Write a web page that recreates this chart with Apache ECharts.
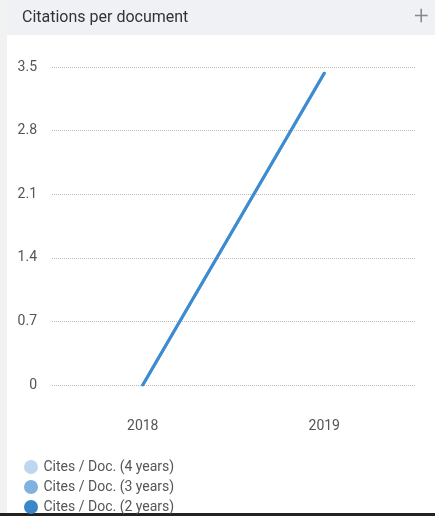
<!DOCTYPE html>
<html><head><meta charset="utf-8">
<script src="https://cdn.jsdelivr.net/npm/echarts@6/dist/echarts.min.js"></script>
<style>html,body{margin:0;padding:0;background:#fff;}#c{width:435px;height:516px;}</style>
</head><body><div id="c"></div>
<script>
const years = ['2018', '2019'];
const cites4 = [0, 3.43];
const cites3 = [0, 3.43];
const cites2 = [0, 3.43];
const seriesNames = ['Cites / Doc. (4 years)', 'Cites / Doc. (3 years)', 'Cites / Doc. (2 years)'];
const colors = ['#bcd7ef', '#7fb2de', '#3a86c8'];

const chart = echarts.init(document.getElementById('c'));
const font = 'Roboto, "Noto Sans", sans-serif';
chart.setOption({
  animation: false,
  textStyle: { fontFamily: font },
  graphic: [
    { type: 'rect', left: 0, top: 0, shape: { width: 7, height: 516 }, style: { fill: '#f2f2f2' }, z: -1 },
    { type: 'rect', left: 7, top: 0, shape: { width: 428, height: 35 }, style: { fill: '#f0f1f5' }, z: -1 },
    { type: 'text', left: 22, top: 10, style: { text: 'Citations per document', fill: '#333', font: '16px ' + font } },
    { type: 'text', left: 414, top: 4, style: { text: '+', fill: '#888', font: '300 26px ' + font } },
    { type: 'rect', left: 0, top: 513, shape: { width: 435, height: 3 }, style: { fill: '#222' } }
  ],
  grid: { left: 52, right: 20, top: 67, bottom: 131, containLabel: false },
  xAxis: {
    type: 'category', data: years, boundaryGap: true,
    axisLine: { show: false }, axisTick: { show: false },
    axisLabel: { color: '#555', fontSize: 14, margin: 34 }
  },
  yAxis: {
    type: 'value', min: 0, max: 3.5, interval: 0.7,
    axisLine: { show: false }, axisTick: { show: false },
    axisLabel: { color: '#555', fontSize: 14, margin: 15, formatter: v => String(+v.toFixed(1)) },
    splitLine: { lineStyle: { type: 'dotted', color: '#bbb', width: 1 } }
  },
  legend: {
    orient: 'vertical', left: 19, top: 455, height: 90, itemGap: 6, icon: 'circle', itemWidth: 15, itemHeight: 14,
    textStyle: { color: '#555', fontSize: 14 },
    data: seriesNames
  },
  series: seriesNames.map((n, i) => ({
    name: n, type: 'line', data: [cites4, cites3, cites2][i], showSymbol: false, symbol: 'circle',
    color: colors[i], lineStyle: { width: 3, cap: 'round', color: i === 2 ? '#3d8bd0' : colors[i] }
  }))
});
</script></body></html>
